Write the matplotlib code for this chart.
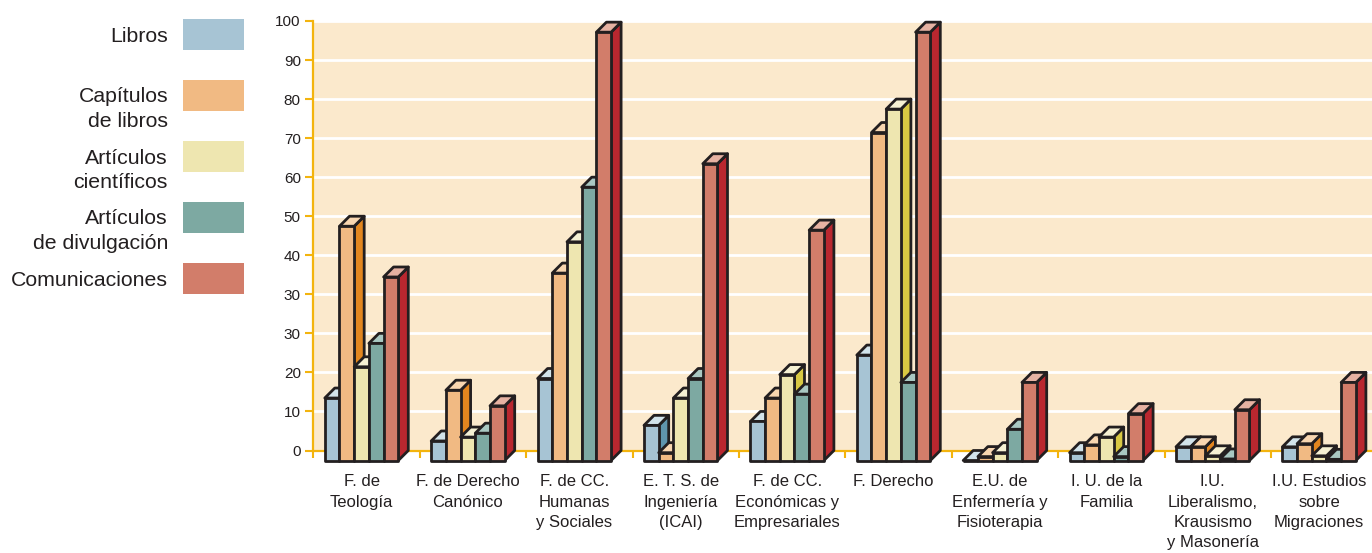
import matplotlib.pyplot as plt
from matplotlib.patches import Polygon, Rectangle

plt.rcParams.update(
    {
        "font.family": ["Liberation Sans", "DejaVu Sans"],
        "font.size": 12,
        "text.color": "#231F20",
        "axes.linewidth": 1.5,
    }
)

# Data (bar heights read in grid steps: every white line is one step of 10)
categories = [
    "F. de\nTeología",
    "F. de Derecho\nCanónico",
    "F. de CC.\nHumanas\ny Sociales",
    "E. T. S. de\nIngeniería\n(ICAI)",
    "F. de CC.\nEconómicas y\nEmpresariales",
    "F. Derecho",
    "E.U. de\nEnfermería y\nFisioterapia",
    "I. U. de la\nFamilia",
    "I.U.\nLiberalismo,\nKrausismo\ny Masonería",
    "I.U. Estudios\nsobre\nMigraciones",
]
series = [
    "Libros",
    "Capítulos\nde libros",
    "Artículos\ncientíficos",
    "Artículos\nde divulgación",
    "Comunicaciones",
]
libros = [16, 5, 21, 9, 10, 27, 0, 2, 3.5, 3.5]
capitulos = [60, 18, 48, 2, 16, 84, 1, 4, 3.5, 4.3]
articulos_cient = [24, 6, 56, 16, 22, 90, 2, 6, 1.2, 1.2]
articulos_divul = [30, 7, 70, 21, 17, 20, 8, 1, 0.4, 0.3]
comunicaciones = [47, 14, 109.7, 76, 59, 109.7, 20, 12, 13, 20]
values = [libros, capitulos, articulos_cient, articulos_divul, comunicaciones]

y_ticks = [0, 10, 20, 30, 40, 50, 60, 70, 80, 90, 100, 110]
y_tick_labels = ["0", "10", "20", "30", "30", "40", "50", "60", "70", "80", "90", "100"]

# Colours: (front, top, side)
bar_colors = [
    ("#A7C4D4", "#D2E3EA", "#5F95AD"),
    ("#F1BA83", "#F8D6B0", "#E2861F"),
    ("#EEE6B0", "#F6F1D3", "#D8C843"),
    ("#7DA9A2", "#A9C8C2", "#5A938B"),
    ("#D27D6A", "#E6B2A2", "#B9272F"),
]
gold = "#F3B40E"
peach = "#FBE9CC"
ink = "#231F20"

# Layout (pixels of the 1372x553 output)
W, H = 1372, 553
ax_left, ax_bottom, ax_top = 313.3, 450.5, 21.0
slot_px = 106.4
y_max = 110
px_per_y = (ax_bottom - ax_top) / y_max

bar_w = 14.7 / slot_px
depth_x = 10.0 / slot_px
depth_y = 10.0 / px_per_y
group_off = 0.108

fig = plt.figure(figsize=(W / 100, H / 100), dpi=100)
ax = fig.add_axes(
    [ax_left / W, (H - ax_bottom) / H, (W - ax_left) / W, (ax_bottom - ax_top) / H]
)
ax.set_facecolor(peach)
ax.set_xlim(0, (W - ax_left) / slot_px)
ax.set_ylim(0, y_max)

# Grid
ax.set_axisbelow(True)
ax.yaxis.grid(True, color="white", linewidth=2.0)
ax.xaxis.grid(False)

# Spines
for side in ["top", "right"]:
    ax.spines[side].set_visible(False)
for side in ["left", "bottom"]:
    ax.spines[side].set_color(gold)
    ax.spines[side].set_linewidth(1.6)

# 3D-looking bars
for k in range(len(categories)):
    for j in range(len(series)):
        v = values[j][k]
        front_c, top_c, side_c = bar_colors[j]
        x0 = k + group_off + j * bar_w
        x1 = x0 + bar_w
        y0 = -depth_y
        y1 = v - depth_y
        side = Polygon(
            [(x1, y0), (x1 + depth_x, 0), (x1 + depth_x, v), (x1, y1)],
            closed=True,
        )
        top = Polygon(
            [(x0, y1), (x1, y1), (x1 + depth_x, v), (x0 + depth_x, v)],
            closed=True,
        )
        front = Rectangle((x0, y0), bar_w, v)
        for patch, color in [(side, side_c), (top, top_c), (front, front_c)]:
            patch.set_facecolor(color)
            patch.set_edgecolor(ink)
            patch.set_linewidth(2.0)
            patch.set_joinstyle("round")
            patch.set_clip_on(False)
            patch.set_zorder(3)
            ax.add_patch(patch)

# Y axis ticks
ax.set_yticks(y_ticks)
ax.set_yticklabels(y_tick_labels)
ax.tick_params(
    axis="y", direction="out", length=6, width=1.5, color=gold,
    labelsize=11, labelcolor=ink, pad=3,
)

# X axis: boundary ticks (major) and category labels (minor)
ax.set_xticks(range(len(categories)))
ax.set_xticklabels([])
ax.set_xticks([k + group_off + 2.5 * bar_w for k in range(len(categories))], minor=True)
ax.set_xticklabels(categories, minor=True, linespacing=1.45)
ax.tick_params(axis="x", which="major", direction="out", length=5, width=1.5, color=gold)
ax.tick_params(
    axis="x", which="minor", length=0, labelsize=12, labelcolor=ink, pad=17
)

# Legend on the left
box_left, box_w, box_h = 183, 61, 31
box_tops = [19, 80, 141, 202, 263]
for j, name in enumerate(series):
    top_px = box_tops[j]
    rect = Rectangle(
        (box_left / W, 1 - (top_px + box_h) / H),
        box_w / W,
        box_h / H,
        transform=fig.transFigure,
        facecolor=bar_colors[j][0],
        edgecolor="none",
    )
    fig.patches.append(rect)
    fig.text(
        168 / W,
        1 - (top_px + 7.5) / H,
        name,
        ha="right",
        va="top",
        multialignment="right",
        fontsize=15.3,
        linespacing=1.38,
        color=ink,
    )

fig.savefig("out.png", dpi=100)
